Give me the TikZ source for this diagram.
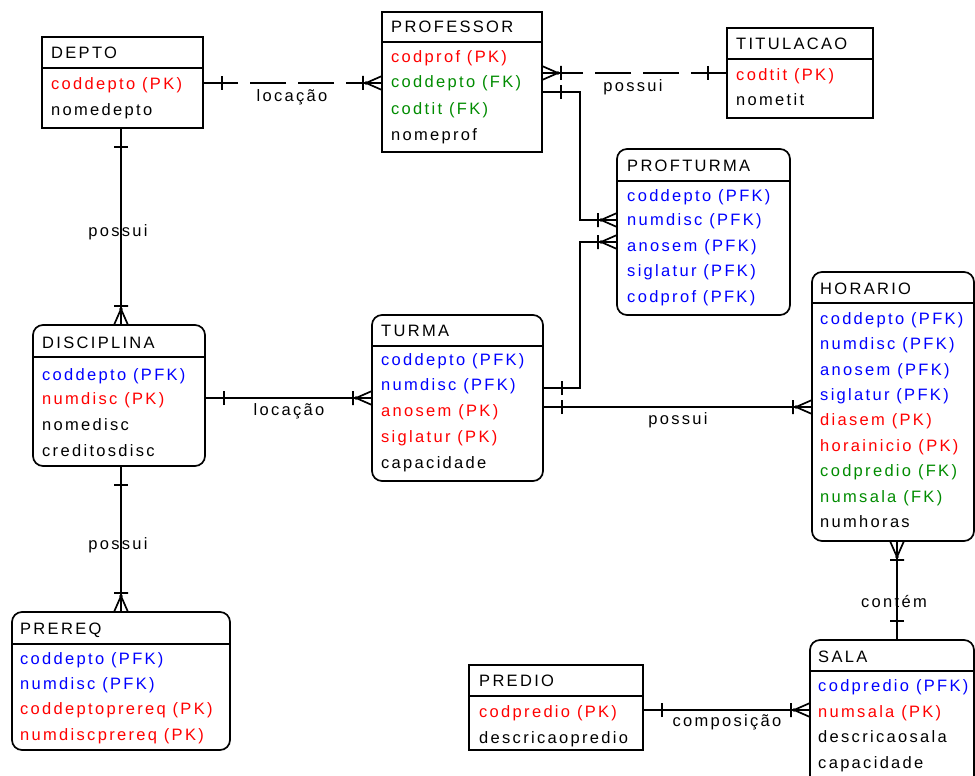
\documentclass[tikz,border=0pt]{standalone}
\usepackage{fontspec}
\newfontfamily\erfont[LetterSpace=14]{Liberation Sans}
\definecolor{pkred}{RGB}{255,0,0}
\definecolor{fkgreen}{RGB}{0,140,0}
\definecolor{pfkblue}{RGB}{0,0,255}
\tikzset{
  ent/.style={draw, line width=1.7pt, inner sep=0pt, outer sep=0pt, anchor=north west},
  rent/.style={ent, rounded corners=10pt},
  sepl/.style={line width=1.7pt},
  rel/.style={line width=1.7pt},
  reldash/.style={rel, dash pattern=on 36pt off 12pt},
  tx/.style={anchor=base west, inner sep=0pt, font=\erfont\fontsize{16.5}{19}\selectfont, text=black},
  pk/.style={tx, text=pkred},
  fk/.style={tx, text=fkgreen},
  pfk/.style={tx, text=pfkblue},
  lbl/.style={inner sep=0pt, font=\erfont\fontsize{16.5}{19}\selectfont},
  crow/.pic={\draw[rel] (-16,0) -- (0,7) (-16,0) -- (0,-7) (-16,0) -- (0,0) (-19,-7) -- (-19,7);
             \fill (-16,0) circle (1.8pt);},
  onebar/.pic={\draw[rel] (-19,-7) -- (-19,7);}
}
\begin{document}
\begin{tikzpicture}[x=1pt,y=-1pt]
\useasboundingbox (0,0) rectangle (975,776);
\clip (0,0) rectangle (975,776);
\fill[white] (0,0) rectangle (975,776);

% ---------- entities ----------
\node[ent, minimum width=161pt, minimum height=91pt] (depto) at (42,37) {};
\draw[sepl] (depto.west |- 0,68) -- (depto.east |- 0,68);
\node[tx] (deptoT) at (51,59) {DEPTO};
\node[pk] (depto1) at (51,89) {coddepto (PK)};
\node[tx] (depto2) at (51,115) {nomedepto};

\node[ent, minimum width=160pt, minimum height=140pt] (professor) at (382,12) {};
\draw[sepl] (professor.west |- 0,42) -- (professor.east |- 0,42);
\node[tx] (profT) at (391,33) {PROFESSOR};
\node[pk] (prof1) at (391,63) {codprof (PK)};
\node[fk] (prof2) at (391,88) {coddepto (FK)};
\node[fk] (prof3) at (391,114) {codtit (FK)};
\node[tx] (prof4) at (391,140) {nomeprof};

\node[ent, minimum width=146pt, minimum height=90pt] (titulacao) at (727,28) {};
\draw[sepl] (titulacao.west |- 0,59) -- (titulacao.east |- 0,59);
\node[tx] (titT) at (736,50) {TITULACAO};
\node[pk] (tit1) at (736,81) {codtit (PK)};
\node[tx] (tit2) at (736,106) {nometit};

\node[rent, minimum width=173pt, minimum height=166pt] (profturma) at (617,149) {};
\draw[sepl] (profturma.west |- 0,181) -- (profturma.east |- 0,181);
\node[tx] (ptT) at (627,171) {PROFTURMA};
\node[pfk] (pt1) at (627,201) {coddepto (PFK)};
\node[pfk] (pt2) at (627,225) {numdisc (PFK)};
\node[pfk] (pt3) at (627,251) {anosem (PFK)};
\node[pfk] (pt4) at (627,276) {siglatur (PFK)};
\node[pfk] (pt5) at (627,302) {codprof (PFK)};

\node[rent, minimum width=162pt, minimum height=269pt] (horario) at (812,272) {};
\draw[sepl] (horario.west |- 0,303) -- (horario.east |- 0,303);
\node[tx] (horT) at (820,294) {HORARIO};
\node[pfk] (hor1) at (820,324) {coddepto (PFK)};
\node[pfk] (hor2) at (820,349) {numdisc (PFK)};
\node[pfk] (hor3) at (820,375) {anosem (PFK)};
\node[pfk] (hor4) at (820,400) {siglatur (PFK)};
\node[pk] (hor5) at (820,425) {diasem (PK)};
\node[pk] (hor6) at (820,451) {horainicio (PK)};
\node[fk] (hor7) at (820,476) {codpredio (FK)};
\node[fk] (hor8) at (820,502) {numsala (FK)};
\node[tx] (hor9) at (820,527) {numhoras};

\node[rent, minimum width=172pt, minimum height=141pt] (disciplina) at (33,325) {};
\draw[sepl] (disciplina.west |- 0,357) -- (disciplina.east |- 0,357);
\node[tx] (discT) at (42,348) {DISCIPLINA};
\node[pfk] (disc1) at (42,380) {coddepto (PFK)};
\node[pk] (disc2) at (42,404) {numdisc (PK)};
\node[tx] (disc3) at (42,430) {nomedisc};
\node[tx] (disc4) at (42,456) {creditosdisc};

\node[rent, minimum width=171pt, minimum height=166pt] (turma) at (372,315) {};
\draw[sepl] (turma.west |- 0,346) -- (turma.east |- 0,346);
\node[tx] (turT) at (381,336) {TURMA};
\node[pfk] (tur1) at (381,365) {coddepto (PFK)};
\node[pfk] (tur2) at (381,390) {numdisc (PFK)};
\node[pk] (tur3) at (381,416) {anosem (PK)};
\node[pk] (tur4) at (381,442) {siglatur (PK)};
\node[tx] (tur5) at (381,468) {capacidade};

\node[rent, minimum width=218pt, minimum height=138pt] (prereq) at (12,612) {};
\draw[sepl] (prereq.west |- 0,644) -- (prereq.east |- 0,644);
\node[tx] (preT) at (20,634) {PREREQ};
\node[pfk] (pre1) at (20,664) {coddepto (PFK)};
\node[pfk] (pre2) at (20,689) {numdisc (PFK)};
\node[pk] (pre3) at (20,714) {coddeptoprereq (PK)};
\node[pk] (pre4) at (20,740) {numdiscprereq (PK)};

\node[ent, minimum width=174pt, minimum height=85pt] (predio) at (469,665) {};
\draw[sepl] (predio.west |- 0,696) -- (predio.east |- 0,696);
\node[tx] (predT) at (479,686) {PREDIO};
\node[pk] (pred1) at (479,717) {codpredio (PK)};
\node[tx] (pred2) at (479,743) {descricaopredio};

\node[rent, minimum width=164pt, minimum height=150pt] (sala) at (810,640) {};
\draw[sepl] (sala.west |- 0,671) -- (sala.east |- 0,671);
\node[tx] (salT) at (818,662) {SALA};
\node[pfk] (sal1) at (818,691) {codpredio (PFK)};
\node[pk] (sal2) at (818,717) {numsala (PK)};
\node[tx] (sal3) at (818,742) {descricaosala};
\node[tx] (sal4) at (818,768) {capacidade};

% ---------- relationships ----------
% DEPTO - PROFESSOR (locacao, dashed)
\draw[reldash] (professor.west |- 0,83) -- (depto.east |- 0,83);
\pic[rotate=180] at (depto.east |- 0,83) {onebar};
\pic at (professor.west |- 0,83) {crow};
\node[lbl] (l1) at (292,97) {locação};

% PROFESSOR - TITULACAO (possui, dashed)
\draw[reldash] (titulacao.west |- 0,73) -- (professor.east |- 0,73);
\pic[rotate=180] at (professor.east |- 0,73) {crow};
\pic at (titulacao.west |- 0,73) {onebar};
\node[lbl] (l2) at (633,87) {possui};

% PROFESSOR - PROFTURMA
\draw[rel] (professor.east |- 0,92) -- (580,92) |- (profturma.west |- 0,220);
\pic[rotate=180] at (professor.east |- 0,92) {onebar};
\pic at (profturma.west |- 0,220) {crow};

% TURMA - PROFTURMA
\draw[rel] (turma.east |- 0,388) -- (580,388) |- (profturma.west |- 0,242);
\pic[rotate=180] at (turma.east |- 0,388) {onebar};
\pic at (profturma.west |- 0,242) {crow};

% TURMA - HORARIO (possui)
\draw[rel] (turma.east |- 0,407) -- (horario.west |- 0,407);
\pic[rotate=180] at (turma.east |- 0,407) {onebar};
\pic at (horario.west |- 0,407) {crow};
\node[lbl] (l3) at (678,420) {possui};

% DEPTO - DISCIPLINA (possui)
\draw[rel] (depto.south -| 121,0) -- (disciplina.north -| 121,0);
\pic[rotate=90] at (depto.south -| 121,0) {onebar};
\pic[rotate=-90] at (disciplina.north -| 121,0) {crow};
\node[lbl] (l4) at (118,232) {possui};

% DISCIPLINA - TURMA (locacao)
\draw[rel] (disciplina.east |- 0,398) -- (turma.west |- 0,398);
\pic[rotate=180] at (disciplina.east |- 0,398) {onebar};
\pic at (turma.west |- 0,398) {crow};
\node[lbl] (l5) at (289,411) {locação};

% DISCIPLINA - PREREQ (possui)
\draw[rel] (disciplina.south -| 121,0) -- (prereq.north -| 121,0);
\pic[rotate=90] at (disciplina.south -| 121,0) {onebar};
\pic[rotate=-90] at (prereq.north -| 121,0) {crow};
\node[lbl] (l6) at (118,545) {possui};

% HORARIO - SALA (contem)
\draw[rel] (horario.south -| 897,0) -- (sala.north -| 897,0);
\pic[rotate=90] at (horario.south -| 897,0) {crow};
\pic[rotate=-90] at (sala.north -| 897,0) {onebar};
\node[lbl] (l7) at (894,602) {contém};

% PREDIO - SALA (composicao)
\draw[rel] (predio.east |- 0,710) -- (sala.west |- 0,710);
\pic[rotate=180] at (predio.east |- 0,710) {onebar};
\pic at (sala.west |- 0,710) {crow};
\node[lbl] (l8) at (727,722) {composição};
\end{tikzpicture}
\end{document}
